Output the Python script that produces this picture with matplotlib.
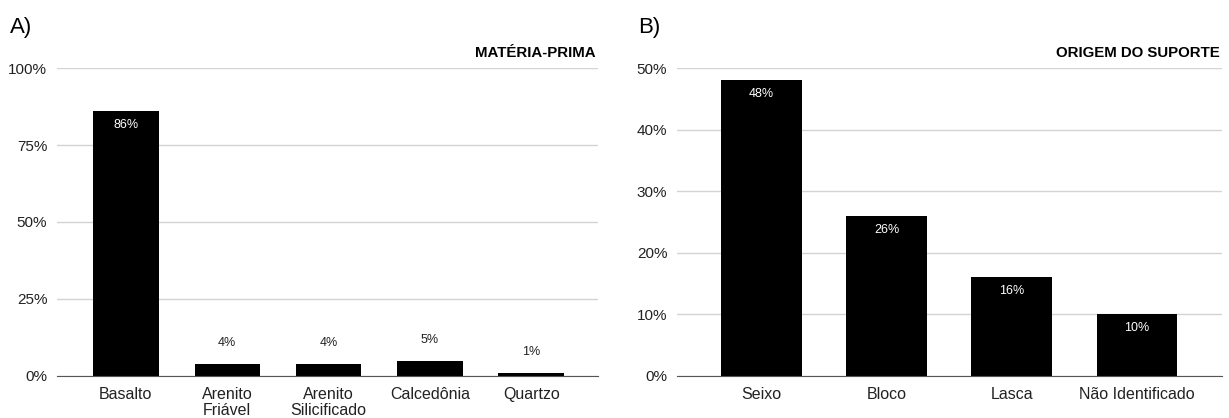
import matplotlib
matplotlib.use('Agg')
from matplotlib import pyplot as plt
from matplotlib.ticker import PercentFormatter

plt.rcParams['font.family'] = ['Liberation Sans', 'DejaVu Sans']

# panel A: raw material
mp_labels = ['Basalto', 'Arenito\nFriável', 'Arenito\nSilicificado', 'Calcedônia', 'Quartzo']
mp_values = [86, 4, 4, 5, 1]

# panel B: blank origin
os_labels = ['Seixo', 'Bloco', 'Lasca', 'Não Identificado']
os_values = [48, 26, 16, 10]

fig = plt.figure(figsize=(12.29, 4.18), dpi=100)
axA = fig.add_axes([0.0464, 0.1005, 0.4402, 0.7368])
axB = fig.add_axes([0.5509, 0.1005, 0.4435, 0.7368])


def drawPanel(ax, labels, values, ymax, step, title, inside_min, xlim):
    '''Bar chart with light grid and percentage labels'''
    xs = list(range(len(values)))
    ax.bar(xs, values, width=0.645, color='black', zorder=3)
    ax.set_ylim(0, ymax)
    ax.set_xlim(*xlim)
    ax.set_yticks(range(0, ymax + 1, step))
    ax.yaxis.set_major_formatter(PercentFormatter(decimals=0))
    ax.set_xticks(xs)
    ax.set_xticklabels(labels, linespacing=1.1)
    ax.tick_params(axis='y', length=0, labelsize=11, colors='#222222', pad=7)
    ax.tick_params(axis='x', length=0, labelsize=11.5, colors='#222222', pad=8)
    ax.grid(axis='y', color='#d3d3d3', linewidth=1, zorder=0)
    for s in ['top', 'right', 'left']:
        ax.spines[s].set_visible(False)
    ax.spines['bottom'].set_color('#555555')
    ax.spines['bottom'].set_zorder(4)
    # value labels: white inside tall bars, black above short ones
    for x, v in zip(xs, values):
        if v >= inside_min:
            ax.annotate(f'{v}%', (x, v), xytext=(0, -10), textcoords='offset points',
                        ha='center', va='center', color='white', fontsize=9, zorder=5)
        else:
            ax.annotate(f'{v}%', (x, v), xytext=(0, 15), textcoords='offset points',
                        ha='center', va='center', color='#222222', fontsize=9)
    ax.text(0.995, 1.048, title, transform=ax.transAxes, ha='right', va='center',
            fontsize=10.8, fontweight='bold')
    return ax


drawPanel(axA, mp_labels, mp_values, 100, 25, 'MATÉRIA-PRIMA', 20, (-0.68, 4.66))
drawPanel(axB, os_labels, os_values, 50, 10, 'ORIGEM DO SUPORTE', 5, (-0.675, 3.68))

fig.text(0.008, 0.935, 'A)', fontsize=16, va='center', ha='left')
fig.text(0.519, 0.935, 'B)', fontsize=16, va='center', ha='left')

fig.savefig('out.png', dpi=100)
